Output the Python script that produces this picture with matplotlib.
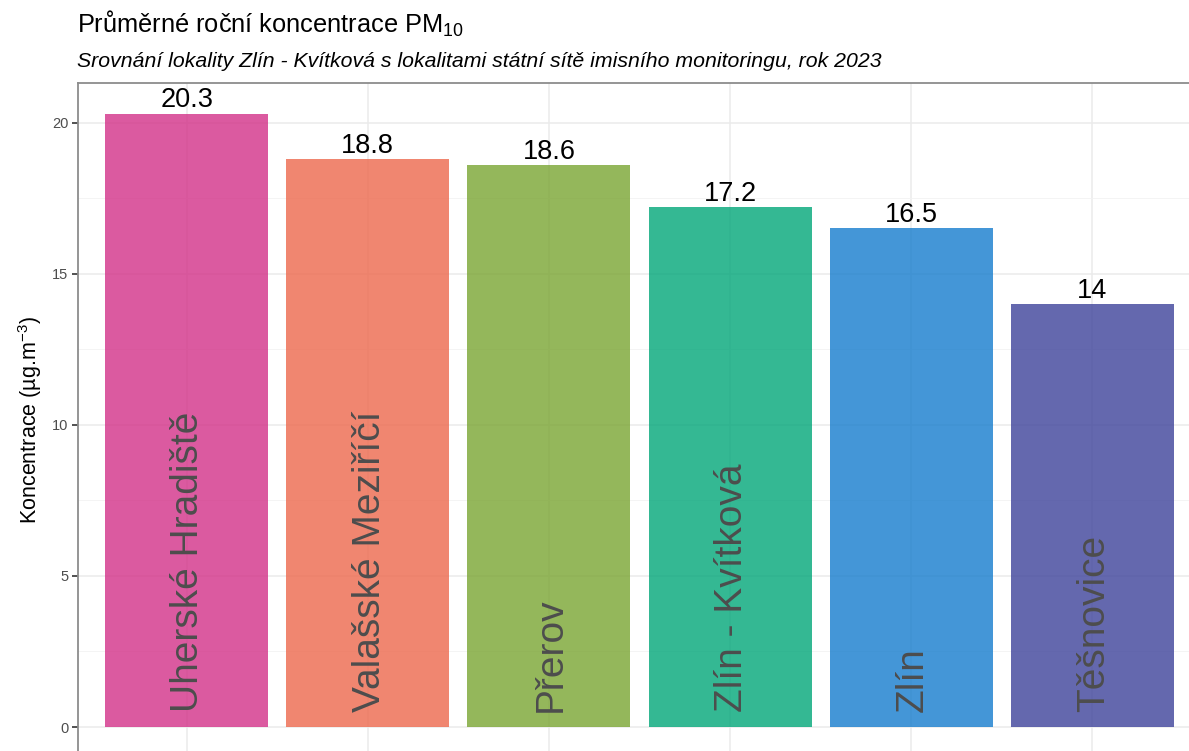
import matplotlib
matplotlib.use("Agg")
import matplotlib.pyplot as plt

plt.rcParams['font.family'] = ['Liberation Sans', 'DejaVu Sans']
plt.rcParams['mathtext.fontset'] = 'custom'
plt.rcParams['mathtext.rm'] = 'Liberation Sans'
plt.rcParams['mathtext.it'] = 'Liberation Sans:italic'

# Data
stations = ["Uherské Hradiště", "Valašské Meziříčí", "Přerov",
            "Zlín - Kvítková", "Zlín", "Těšnovice"]
values = [20.3, 18.8, 18.6, 17.2, 16.5, 14]
value_labels = ["20.3", "18.8", "18.6", "17.2", "16.5", "14"]
colors = ["#D33188", "#ED684C", "#7AA532", "#01A678", "#157CCD", "#3D429A"]

fig = plt.figure(figsize=(11.89, 7.51), dpi=100)
# panel runs past the right and bottom edge like the cropped original
ax = fig.add_axes([78 / 1189, -0.0089, 0.9445, 0.8984])

x = range(1, len(stations) + 1)
ax.bar(x, values, width=0.9, color=colors, alpha=0.8, zorder=3)

for xi, v, lab, name in zip(x, values, value_labels, stations):
    ax.annotate(lab, (xi, v), xytext=(0, 4.5), textcoords="offset points",
                ha="center", va="baseline", fontsize=19.5, color="black", zorder=4)
    ax.text(xi + 0.01, 0.5, name, rotation=90, ha="center", va="bottom",
            fontsize=28, color="#4D4D4D", zorder=4)

ax.set_xlim(0.4, 6.6)
ax.set_ylim(-1.015, 21.315)
ax.set_yticks([0, 5, 10, 15, 20])
ax.set_yticks([2.5, 7.5, 12.5, 17.5], minor=True)
ax.set_xticks(list(x))
ax.set_xticklabels([])
ax.tick_params(axis="x", length=0)
ax.tick_params(axis="y", which="major", labelsize=10.5, labelcolor="#4D4D4D",
               color="#333333", length=4, width=1.2, pad=3)
ax.tick_params(axis="y", which="minor", length=0)

ax.grid(which="major", color="#EBEBEB", linewidth=1.1, zorder=0)
ax.grid(which="minor", axis="y", color="#F2F2F2", linewidth=0.6, zorder=0)
ax.set_axisbelow(True)

for side in ["left", "top"]:
    ax.spines[side].set_color("#8C8C8C")
    ax.spines[side].set_linewidth(1.3)
for side in ["right", "bottom"]:
    ax.spines[side].set_visible(False)

ax.set_ylabel(r"Koncentrace (µg.m$^{-3}$)", fontsize=15.5, color="black", labelpad=6)

fig.text(77 / 1189, 1 - 32.5 / 751, r"Průměrné roční koncentrace PM$_{10}$",
         fontsize=18.3, ha="left", va="baseline")
fig.text(77 / 1189, 1 - 67 / 751,
         "Srovnání lokality Zlín - Kvítková s lokalitami státní sítě imisního monitoringu, rok 2023",
         fontsize=15.35, style="italic", ha="left", va="baseline")

fig.savefig("out.png", dpi=100)
